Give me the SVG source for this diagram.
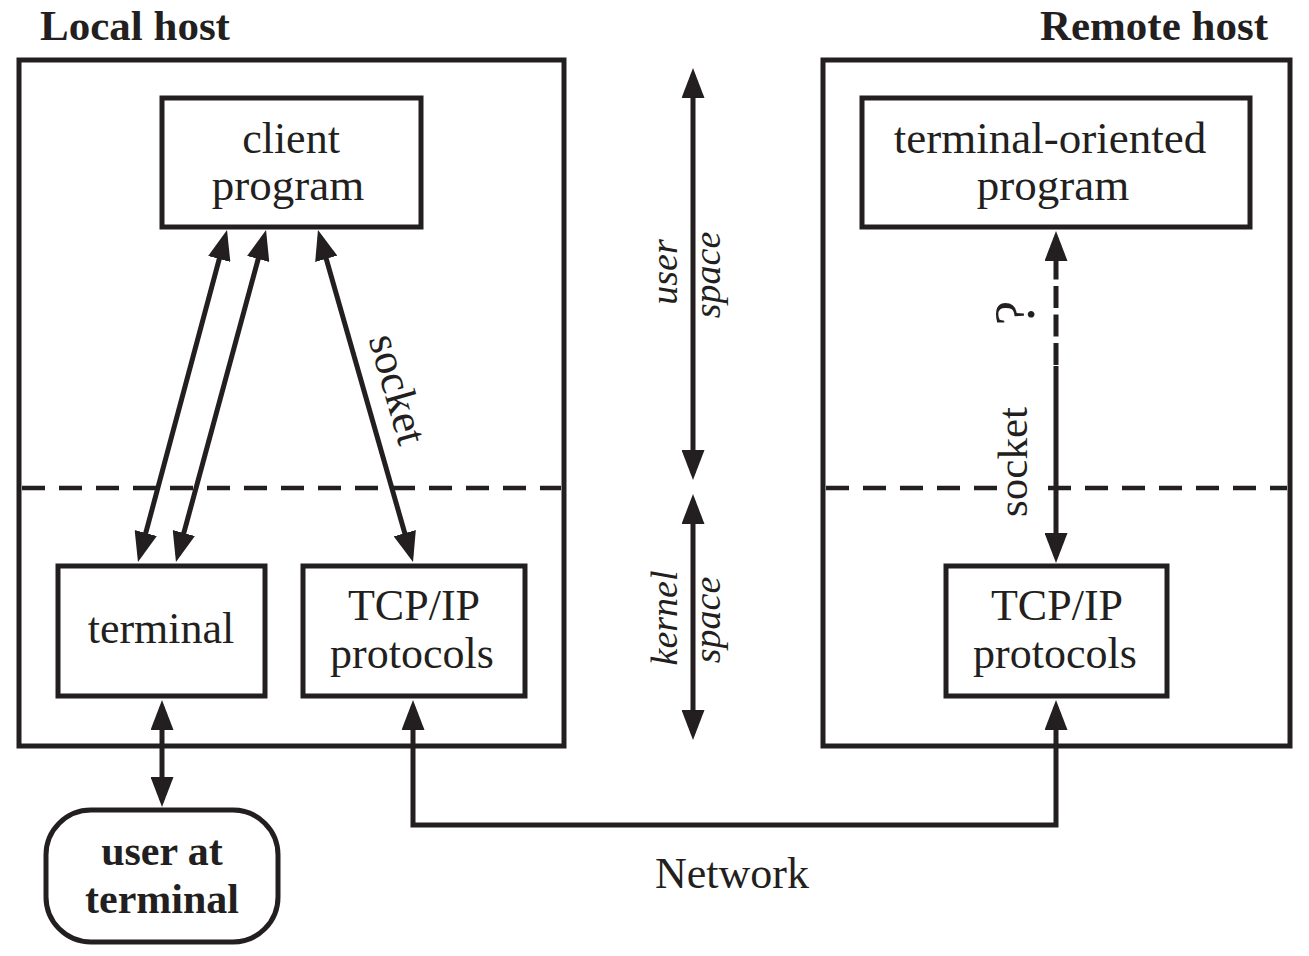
<svg xmlns="http://www.w3.org/2000/svg" width="1309" height="956" viewBox="0 0 1309 956">
<style>
  .box { fill: none; stroke: #231f20; stroke-width: 5; stroke-linejoin: miter; }
  .node { fill: #ffffff; stroke: #231f20; stroke-width: 5; }
  .sep { fill: none; stroke: #231f20; stroke-width: 4.5; stroke-dasharray: 23 14; }
  .conn { fill: none; stroke: #231f20; stroke-width: 5; }
  .t { font-family: "Liberation Serif", "Times New Roman", serif; fill: #231f20; text-anchor: middle; }
  .b { font-family: "Liberation Serif", "Times New Roman", serif; fill: #231f20; font-weight: bold; }
  .i { font-family: "Liberation Serif", "Times New Roman", serif; fill: #231f20; font-style: italic; font-size: 38px; text-anchor: middle; }
</style>
<defs>
  <marker id="ah" markerUnits="userSpaceOnUse" markerWidth="30" markerHeight="23" refX="23" refY="11.5" orient="auto-start-reverse" viewBox="0 0 30 23">
    <path d="M0,0 L30,11.5 L0,23 z" fill="#231f20"/>
  </marker>
</defs>
<rect width="1309" height="956" fill="#ffffff"/>

<g id="local-host">
  <rect class="box" x="19" y="60" width="545" height="686"/>
  <text class="b" x="40" y="40" font-size="43">Local host</text>
  <line class="sep" x1="22" y1="488" x2="561" y2="488"/>
</g>
<g id="remote-host">
  <rect class="box" x="823" y="60" width="467" height="686"/>
  <text class="b" x="1268" y="40" font-size="43" text-anchor="end">Remote host</text>
  <line class="sep" x1="826" y1="488" x2="1287" y2="488"/>
</g>

<g id="client-program">
  <rect class="node" x="162" y="98" width="259" height="129"/>
  <text class="t" x="291" y="153" font-size="44">client</text>
  <text class="t" x="288" y="200" font-size="45">program</text>
</g>
<g id="terminal-oriented-program">
  <rect class="node" x="862" y="98" width="388" height="129"/>
  <text class="t" x="1050" y="153" font-size="45">terminal-oriented</text>
  <text class="t" x="1053" y="200" font-size="45">program</text>
</g>
<g id="terminal">
  <rect class="node" x="58" y="566" width="207" height="130"/>
  <text class="t" x="161" y="643" font-size="44">terminal</text>
</g>
<g id="tcpip-local">
  <rect class="node" x="303" y="566" width="222" height="130"/>
  <text class="t" x="414" y="620" font-size="44">TCP/IP</text>
  <text class="t" x="412" y="668" font-size="44">protocols</text>
</g>
<g id="tcpip-remote">
  <rect class="node" x="946" y="566" width="221" height="130"/>
  <text class="t" x="1057" y="620" font-size="44">TCP/IP</text>
  <text class="t" x="1055" y="668" font-size="44">protocols</text>
</g>
<g id="user-at-terminal">
  <rect class="node" x="46" y="810" width="232" height="132" rx="45" ry="45"/>
  <text class="b" x="162" y="865" font-size="42" text-anchor="middle">user at</text>
  <text class="b" x="162" y="913" font-size="42" text-anchor="middle">terminal</text>
</g>

<g id="connectors">
  <line class="conn" x1="225.2" y1="236.8" x2="139.8" y2="555.2" marker-start="url(#ah)" marker-end="url(#ah)"/>
  <line class="conn" x1="264.2" y1="236.8" x2="177.8" y2="555.2" marker-start="url(#ah)" marker-end="url(#ah)"/>
  <line class="conn" x1="319.9" y1="236.7" x2="411.1" y2="555.3" marker-start="url(#ah)" marker-end="url(#ah)"/>
  <text class="t" x="384" y="393" font-size="44" transform="rotate(74 384 393)">socket</text>

  <line class="conn" x1="693" y1="75" x2="693" y2="473" marker-start="url(#ah)" marker-end="url(#ah)"/>
  <line class="conn" x1="693" y1="501" x2="693" y2="733" marker-start="url(#ah)" marker-end="url(#ah)"/>
  <text class="i" x="677" y="272" transform="rotate(-90 677 272)">user</text>
  <text class="i" x="720" y="275" transform="rotate(-90 720 275)">space</text>
  <text class="i" x="677" y="618" transform="rotate(-90 677 618)">kernel</text>
  <text class="i" x="720" y="620" transform="rotate(-90 720 620)">space</text>

  <line class="conn" x1="1056" y1="238" x2="1056" y2="366" stroke-dasharray="22 6.5" stroke-dashoffset="9" marker-start="url(#ah)"/>
  <line class="conn" x1="1056" y1="366" x2="1056" y2="556" marker-end="url(#ah)"/>
  <text class="t" x="1034" y="313" font-size="56" transform="rotate(-90 1034 313)">?</text>
  <rect x="997" y="484" width="38" height="9" fill="#ffffff"/>
  <text class="t" x="1027" y="462" font-size="43" transform="rotate(-90 1027 462)">socket</text>

  <line class="conn" x1="162" y1="707" x2="162" y2="800" marker-start="url(#ah)" marker-end="url(#ah)"/>
  <path class="conn" d="M413,707 L413,825 L1056,825 L1056,707" marker-start="url(#ah)" marker-end="url(#ah)"/>
  <text class="t" x="732" y="888" font-size="44">Network</text>
</g>
</svg>
